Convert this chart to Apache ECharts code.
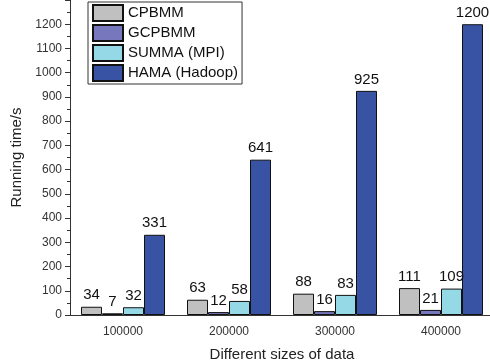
<!DOCTYPE html>
<html>
<head>
<meta charset="utf-8">
<script src="https://cdn.jsdelivr.net/npm/echarts@6/dist/echarts.min.js"></script>
<style>
  html, body { margin: 0; padding: 0; background: #fff; }
  #chart { width: 490px; height: 364px; }
</style>
</head>
<body>
<div id="chart"></div>
<script>
// data
const categories = ['100000', '200000', '300000', '400000'];
const cpbmm = [34, 63, 88, 111];
const gcpbmm = [7, 12, 16, 21];
const summa = [32, 58, 83, 109];
const hama = [331, 641, 925, 1200];

const seriesNames = ['CPBMM', 'GCPBMM', 'SUMMA (MPI)', 'HAMA (Hadoop)'];
const seriesData = [cpbmm, gcpbmm, summa, hama];
const colors = ['#c0c0c0', '#7777bd', '#95d9e6', '#3853a4'];

const font = '"Liberation Sans", Arial, sans-serif';

const chart = echarts.init(document.getElementById('chart'));
chart.setOption({
  animation: false,
  textStyle: { fontFamily: font },
  legend: {
    orient: 'vertical',
    left: 88,
    top: 2,
    itemWidth: 30,
    itemHeight: 16,
    itemGap: 2,
    padding: [2, 4, 2, 4],
    borderColor: '#333',
    borderWidth: 1,
    icon: 'rect',
    textStyle: { fontSize: 15, color: '#111', fontFamily: font },
    data: seriesNames
  },
  grid: { left: 70, right: -4, top: 0, bottom: 49, outerBoundsMode: 'none' },
  xAxis: {
    type: 'category',
    data: categories,
    name: 'Different sizes of data',
    nameLocation: 'middle',
    nameGap: 32,
    nameTextStyle: { fontSize: 15, color: '#222', fontFamily: font },
    axisLine: { lineStyle: { color: '#333' } },
    axisTick: { alignWithLabel: true, length: 5, lineStyle: { color: '#333' } },
    axisLabel: { fontSize: 12, color: '#333', margin: 11, fontFamily: font }
  },
  yAxis: {
    type: 'value',
    min: 0,
    max: 1300,
    interval: 100,
    name: 'Running time/s',
    nameLocation: 'middle',
    nameGap: 46,
    nameTextStyle: { fontSize: 15, color: '#222', fontFamily: font },
    splitLine: { show: false },
    axisLine: { show: true, lineStyle: { color: '#333' } },
    axisTick: { show: true, length: 5, lineStyle: { color: '#333' } },
    minorTick: { show: true, splitNumber: 2, length: 3, lineStyle: { color: '#333' } },
    axisLabel: {
      fontSize: 12, color: '#333', margin: 8, showMaxLabel: false, fontFamily: font,
      formatter: (v) => String(v)
    }
  },
  series: seriesNames.map((name, i) => ({
    name: name,
    type: 'bar',
    data: seriesData[i],
    barWidth: 21,
    barGap: '0%',
    itemStyle: { color: colors[i], borderColor: '#111', borderWidth: 1 },
    label: {
      show: true,
      position: 'top',
      distance: 4,
      fontSize: 15,
      color: '#111',
      fontFamily: font
    }
  }))
});
</script>
</body>
</html>
